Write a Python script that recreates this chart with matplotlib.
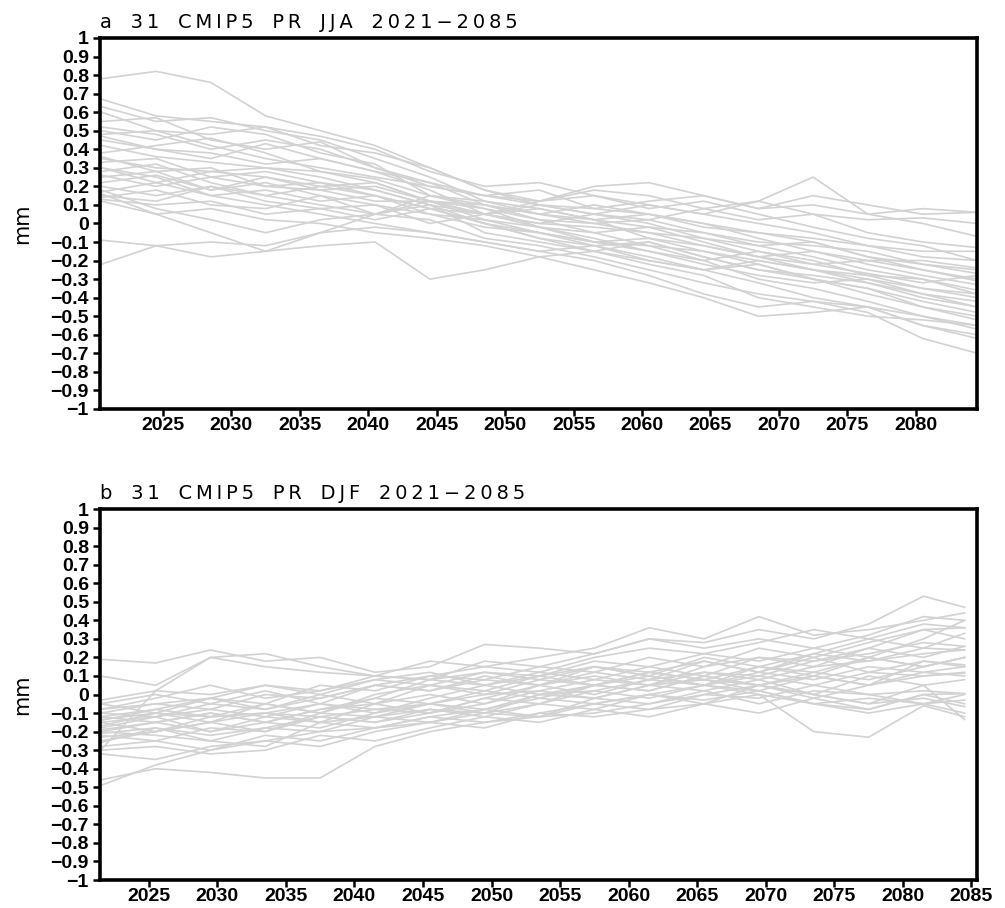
import numpy as np
import matplotlib
matplotlib.use("Agg")
import matplotlib.pyplot as plt

plt.rcParams['font.family'] = ['Liberation Sans', 'DejaVu Sans']

# knot years (4-year spacing)
years_a = [2020.5, 2024.5, 2028.5, 2032.5, 2036.5, 2040.5, 2044.5, 2048.5, 2052.5,
           2056.5, 2060.5, 2064.5, 2068.5, 2072.5, 2076.5, 2080.5, 2084.5]
years_b = [2021.5, 2025.5, 2029.5, 2033.5, 2037.5, 2041.5, 2045.5, 2049.5, 2053.5,
           2057.5, 2061.5, 2065.5, 2069.5, 2073.5, 2077.5, 2081.5, 2084.5]

# JJA precipitation anomalies (mm), 31 models
jja = [
    [0.78, 0.82, 0.76, 0.58, 0.50, 0.42, 0.30, 0.18, 0.10, 0.05, 0.02, -0.05, -0.12, -0.10, -0.18, -0.22, -0.25],
    [0.67, 0.58, 0.55, 0.52, 0.47, 0.40, 0.28, 0.20, 0.22, 0.15, 0.08, 0.12, 0.05, -0.02, -0.08, -0.12, -0.20],
    [0.63, 0.55, 0.57, 0.50, 0.45, 0.35, 0.25, 0.12, 0.05, 0.02, -0.08, -0.15, -0.22, -0.30, -0.38, -0.45, -0.52],
    [0.60, 0.50, 0.48, 0.52, 0.42, 0.38, 0.30, 0.18, 0.12, 0.20, 0.22, 0.15, 0.08, 0.10, 0.05, 0.08, 0.06],
    [0.55, 0.57, 0.45, 0.40, 0.44, 0.30, 0.22, 0.10, 0.02, -0.05, -0.02, -0.10, -0.18, -0.25, -0.30, -0.38, -0.45],
    [0.50, 0.45, 0.52, 0.48, 0.38, 0.32, 0.15, 0.08, -0.02, -0.10, -0.12, -0.20, -0.30, -0.35, -0.42, -0.50, -0.57],
    [0.48, 0.50, 0.42, 0.35, 0.30, 0.25, 0.20, 0.15, 0.10, 0.05, 0.10, 0.05, 0.12, 0.25, 0.05, 0.00, -0.07],
    [0.47, 0.40, 0.35, 0.43, 0.35, 0.28, 0.18, 0.05, 0.00, 0.05, 0.00, -0.08, -0.15, -0.20, -0.28, -0.35, -0.38],
    [0.38, 0.42, 0.46, 0.38, 0.28, 0.22, 0.12, 0.02, -0.05, -0.12, -0.18, -0.25, -0.32, -0.40, -0.45, -0.55, -0.62],
    [0.35, 0.30, 0.28, 0.30, 0.25, 0.18, 0.10, 0.05, 0.08, 0.02, -0.02, -0.05, -0.10, -0.12, -0.15, -0.22, -0.27],
    [0.33, 0.35, 0.25, 0.20, 0.22, 0.15, 0.08, 0.00, -0.08, -0.12, -0.10, -0.18, -0.25, -0.30, -0.35, -0.42, -0.48],
    [0.30, 0.22, 0.28, 0.25, 0.18, 0.12, 0.12, 0.10, 0.05, 0.10, 0.05, 0.00, -0.05, -0.08, -0.12, -0.15, -0.15],
    [0.28, 0.32, 0.22, 0.15, 0.20, 0.15, 0.05, 0.02, -0.02, -0.08, -0.15, -0.22, -0.28, -0.32, -0.30, -0.35, -0.40],
    [0.26, 0.20, 0.25, 0.28, 0.22, 0.18, 0.10, -0.05, -0.10, -0.15, -0.22, -0.28, -0.40, -0.45, -0.50, -0.52, -0.55],
    [0.25, 0.28, 0.18, 0.22, 0.15, 0.05, 0.15, 0.12, 0.08, 0.02, 0.05, -0.02, -0.05, -0.10, -0.18, -0.25, -0.30],
    [0.20, 0.15, 0.20, 0.12, 0.08, 0.10, 0.05, -0.02, -0.05, -0.10, -0.08, -0.12, -0.18, -0.15, -0.22, -0.28, -0.33],
    [0.17, 0.22, 0.15, 0.18, 0.12, 0.15, 0.08, 0.05, 0.12, 0.18, 0.15, 0.08, 0.12, 0.05, -0.05, -0.10, -0.13],
    [0.15, 0.12, 0.20, 0.15, 0.10, 0.05, 0.02, -0.08, -0.12, -0.18, -0.25, -0.32, -0.38, -0.42, -0.48, -0.62, -0.70],
    [0.14, 0.18, 0.10, 0.08, 0.15, 0.10, 0.00, 0.05, -0.02, -0.05, -0.12, -0.15, -0.20, -0.25, -0.28, -0.30, -0.36],
    [0.13, 0.10, 0.12, 0.05, 0.08, 0.02, 0.08, 0.00, -0.05, -0.10, -0.15, -0.20, -0.15, -0.22, -0.27, -0.32, -0.28],
    [0.36, 0.28, 0.30, 0.20, 0.18, 0.20, 0.12, 0.08, 0.02, 0.00, 0.02, 0.08, 0.02, 0.05, 0.02, 0.03, 0.00],
    [0.30, 0.25, 0.15, 0.10, 0.05, 0.00, -0.05, -0.10, -0.15, -0.20, -0.28, -0.38, -0.45, -0.42, -0.45, -0.50, -0.55],
    [0.42, 0.36, 0.33, 0.30, 0.28, 0.24, 0.15, 0.10, 0.05, 0.00, -0.05, -0.12, -0.18, -0.22, -0.20, -0.25, -0.31],
    [0.52, 0.48, 0.40, 0.45, 0.40, 0.30, 0.20, 0.15, 0.18, 0.08, 0.05, 0.00, -0.08, -0.15, -0.20, -0.20, -0.24],
    [0.22, 0.26, 0.18, 0.25, 0.20, 0.22, 0.12, 0.05, 0.00, -0.02, -0.05, -0.08, -0.12, -0.18, -0.25, -0.30, -0.38],
    [-0.09, -0.12, -0.18, -0.15, -0.05, 0.05, 0.12, 0.05, 0.10, 0.08, 0.12, 0.15, 0.08, 0.15, 0.10, 0.05, 0.06],
    [-0.22, -0.12, -0.10, -0.12, -0.05, -0.02, -0.05, -0.10, -0.15, -0.12, -0.20, -0.25, -0.22, -0.30, -0.35, -0.45, -0.50],
    [0.12, 0.05, -0.05, -0.15, -0.12, -0.10, -0.30, -0.25, -0.18, -0.15, -0.10, -0.18, -0.25, -0.28, -0.32, -0.40, -0.45],
    [0.45, 0.40, 0.38, 0.32, 0.35, 0.28, 0.22, 0.15, 0.12, 0.15, 0.10, 0.05, 0.00, -0.05, -0.12, -0.18, -0.20],
    [0.16, 0.05, 0.08, 0.02, 0.00, -0.05, -0.08, -0.12, -0.18, -0.25, -0.32, -0.40, -0.50, -0.48, -0.45, -0.55, -0.60],
    [0.18, 0.08, 0.02, -0.05, 0.02, 0.05, 0.10, 0.00, -0.08, -0.15, -0.20, -0.25, -0.20, -0.25, -0.32, -0.38, -0.42],
]

# DJF precipitation anomalies (mm), 31 models
djf = [
    [0.19, 0.17, 0.24, 0.18, 0.20, 0.12, 0.15, 0.27, 0.25, 0.22, 0.30, 0.28, 0.35, 0.30, 0.38, 0.53, 0.47],
    [0.10, 0.05, 0.20, 0.22, 0.15, 0.10, 0.18, 0.15, 0.20, 0.25, 0.36, 0.30, 0.42, 0.32, 0.35, 0.40, 0.44],
    [-0.03, 0.02, 0.00, 0.05, 0.02, 0.08, 0.05, 0.12, 0.10, 0.18, 0.15, 0.22, 0.18, 0.25, 0.20, 0.30, 0.40],
    [-0.08, -0.05, -0.02, -0.05, 0.05, 0.02, 0.10, 0.08, 0.15, 0.12, 0.20, 0.15, 0.25, 0.20, 0.28, 0.35, 0.36],
    [-0.10, -0.12, -0.05, -0.08, -0.02, 0.05, 0.02, 0.10, 0.05, 0.12, 0.08, 0.18, 0.12, 0.22, 0.30, 0.25, 0.33],
    [-0.135, -0.10, -0.15, -0.05, -0.10, -0.02, 0.08, 0.05, 0.12, 0.08, 0.15, 0.10, 0.20, 0.15, 0.25, 0.20, 0.26],
    [-0.19, -0.15, -0.10, -0.15, -0.08, -0.05, 0.00, -0.05, 0.05, 0.10, 0.05, 0.12, 0.08, 0.15, 0.18, 0.22, 0.24],
    [-0.23, -0.20, -0.15, -0.10, -0.12, -0.08, -0.05, 0.02, -0.02, 0.05, 0.10, 0.05, 0.15, 0.10, 0.20, 0.15, 0.20],
    [-0.26, -0.18, -0.22, -0.18, -0.12, -0.15, -0.08, -0.10, 0.00, -0.02, 0.05, 0.08, 0.02, 0.10, 0.05, 0.18, 0.15],
    [-0.30, 0.02, 0.20, 0.15, 0.12, 0.10, 0.08, 0.12, 0.08, 0.15, 0.10, 0.05, 0.10, 0.05, 0.12, 0.10, 0.115],
    [-0.46, -0.40, -0.42, -0.45, -0.45, -0.28, -0.20, -0.15, -0.12, -0.10, -0.05, 0.00, -0.02, 0.05, 0.00, 0.02, 0.005],
    [-0.49, -0.38, -0.30, -0.25, -0.20, -0.18, -0.15, -0.18, -0.10, -0.12, -0.08, -0.05, 0.00, -0.05, -0.02, -0.05, -0.03],
    [-0.05, 0.00, -0.05, 0.02, -0.05, 0.05, 0.10, 0.15, 0.12, 0.20, 0.25, 0.22, 0.28, 0.35, 0.30, 0.38, 0.36],
    [-0.12, -0.08, -0.02, -0.08, 0.00, -0.05, 0.05, 0.00, 0.08, 0.05, 0.12, 0.08, 0.05, 0.00, -0.05, -0.02, -0.065],
    [-0.15, -0.20, -0.12, -0.10, -0.05, -0.10, -0.02, 0.05, 0.00, 0.02, -0.02, 0.05, 0.02, -0.05, -0.10, -0.05, -0.10],
    [-0.20, -0.15, -0.20, -0.12, -0.15, -0.05, -0.10, -0.02, -0.05, 0.05, 0.02, 0.10, 0.05, 0.12, 0.08, 0.15, 0.20],
    [-0.22, -0.25, -0.18, -0.20, -0.10, -0.12, -0.15, -0.08, -0.02, -0.05, 0.00, -0.05, 0.05, 0.00, -0.05, 0.05, -0.135],
    [-0.18, -0.12, -0.20, -0.15, -0.18, -0.10, -0.05, -0.10, -0.05, 0.02, 0.08, 0.05, 0.12, 0.08, 0.15, 0.12, 0.15],
    [-0.28, -0.25, -0.30, -0.22, -0.25, -0.18, -0.12, -0.15, -0.10, -0.05, -0.08, 0.00, 0.05, -0.02, 0.05, 0.10, 0.12],
    [-0.10, -0.05, -0.08, 0.00, -0.02, 0.05, 0.02, 0.08, 0.05, 0.15, 0.10, 0.20, 0.15, 0.22, 0.18, 0.25, 0.24],
    [-0.30, -0.28, -0.32, -0.30, -0.22, -0.25, -0.18, -0.12, -0.15, -0.08, -0.12, -0.05, -0.10, -0.02, -0.08, 0.00, 0.005],
    [-0.15, -0.12, -0.08, -0.12, -0.05, -0.08, -0.10, -0.02, 0.05, 0.00, 0.08, 0.12, 0.10, 0.18, 0.22, 0.28, 0.26],
    [-0.21, -0.18, -0.25, -0.18, -0.20, -0.12, -0.08, -0.12, -0.05, -0.08, 0.00, 0.05, 0.00, -0.20, -0.23, -0.06, -0.12],
    [-0.05, -0.10, -0.02, 0.05, 0.00, 0.08, 0.12, 0.05, 0.10, 0.15, 0.12, 0.08, 0.15, 0.12, 0.20, 0.15, 0.20],
    [-0.25, -0.20, -0.15, -0.20, -0.12, -0.15, -0.10, -0.05, 0.02, -0.02, 0.05, 0.02, -0.05, 0.02, 0.00, -0.05, 0.00],
    [-0.12, -0.15, -0.10, -0.15, -0.08, -0.02, -0.05, 0.00, 0.02, 0.08, 0.05, 0.15, 0.20, 0.18, 0.25, 0.35, 0.30],
    [-0.17, -0.10, -0.12, -0.05, -0.10, 0.00, 0.05, 0.02, 0.10, 0.05, 0.12, 0.18, 0.12, 0.20, 0.12, 0.18, 0.16],
    [-0.32, -0.35, -0.28, -0.25, -0.28, -0.20, -0.15, -0.10, -0.12, -0.05, 0.00, -0.03, 0.02, -0.05, -0.08, 0.00, -0.05],
    [-0.08, -0.02, 0.05, -0.02, 0.02, 0.10, 0.08, 0.18, 0.15, 0.22, 0.30, 0.25, 0.30, 0.25, 0.32, 0.42, 0.40],
    [-0.20, -0.22, -0.25, -0.28, -0.15, -0.18, -0.12, -0.08, -0.12, -0.02, -0.05, 0.02, 0.08, 0.00, 0.10, 0.05, 0.08],
    [-0.14, -0.08, -0.12, -0.10, -0.15, -0.12, -0.05, -0.08, 0.00, 0.05, 0.02, 0.10, 0.05, 0.10, 0.05, 0.12, 0.10],
]

y_ticks = [-1.0, -0.9, -0.8, -0.7, -0.6, -0.5, -0.4, -0.3, -0.2, -0.1, 0.0,
           0.1, 0.2, 0.3, 0.4, 0.5, 0.6, 0.7, 0.8, 0.9, 1.0]
y_labels = ['\u22121', '\u22120.9', '\u22120.8', '\u22120.7', '\u22120.6', '\u22120.5',
            '\u22120.4', '\u22120.3', '\u22120.2', '\u22120.1', '0',
            '0.1', '0.2', '0.3', '0.4', '0.5', '0.6', '0.7', '0.8', '0.9', '1']
x_ticks_a = [2025, 2030, 2035, 2040, 2045, 2050, 2055, 2060, 2065, 2070, 2075, 2080]
x_ticks_b = [2025, 2030, 2035, 2040, 2045, 2050, 2055, 2060, 2065, 2070, 2075, 2080, 2085]
titles = ['a 31 CMIP5 PR JJA 2021\u22122085', 'b 31 CMIP5 PR DJF 2021\u22122085']


def spaced(s):
    # the original font is very wide: thin spaces inside words, wide gaps between
    return '   '.join('\u2009'.join(w) for w in s.split(' '))


fig = plt.figure(figsize=(10.05, 9.08), dpi=100)
ax_a = fig.add_axes([0.0995, 0.5496, 0.8726, 0.4086])
ax_b = fig.add_axes([0.0995, 0.0308, 0.8726, 0.4086])

panels = [(ax_a, years_a, jja, x_ticks_a, (2020.4, 2084.47), titles[0]),
          (ax_b, years_b, djf, x_ticks_b, (2021.45, 2085.4), titles[1])]

for ax, yrs, runs, xt, xl, ttl in panels:
    for r in runs:
        ax.plot(yrs, r, color='#d2d2d2', lw=1.2)
    ax.set_xlim(*xl)
    ax.set_ylim(-1, 1)
    ax.set_yticks(y_ticks)
    ax.set_yticklabels(y_labels, fontsize=14, fontweight='bold')
    ax.set_xticks(xt)
    ax.set_xticklabels([str(t) for t in xt], fontsize=14, fontweight='bold')
    ax.tick_params(axis='y', direction='out', length=5, width=1.8, pad=3)
    ax.tick_params(axis='x', direction='out', length=5, width=1.8, pad=1)
    for s in ax.spines.values():
        s.set_linewidth(2.6)
    ax.set_title(spaced(ttl), loc='left', fontsize=14, pad=7,
                 family=['DejaVu Sans'])

# y label "mm" for each panel
for ax in (ax_a, ax_b):
    pos = ax.get_position()
    fig.text(22 / 1005, pos.y0 + pos.height / 2, 'mm', rotation=90,
             ha='center', va='center', fontsize=15, family=['DejaVu Sans'])

fig.savefig('out.png', dpi=100)
